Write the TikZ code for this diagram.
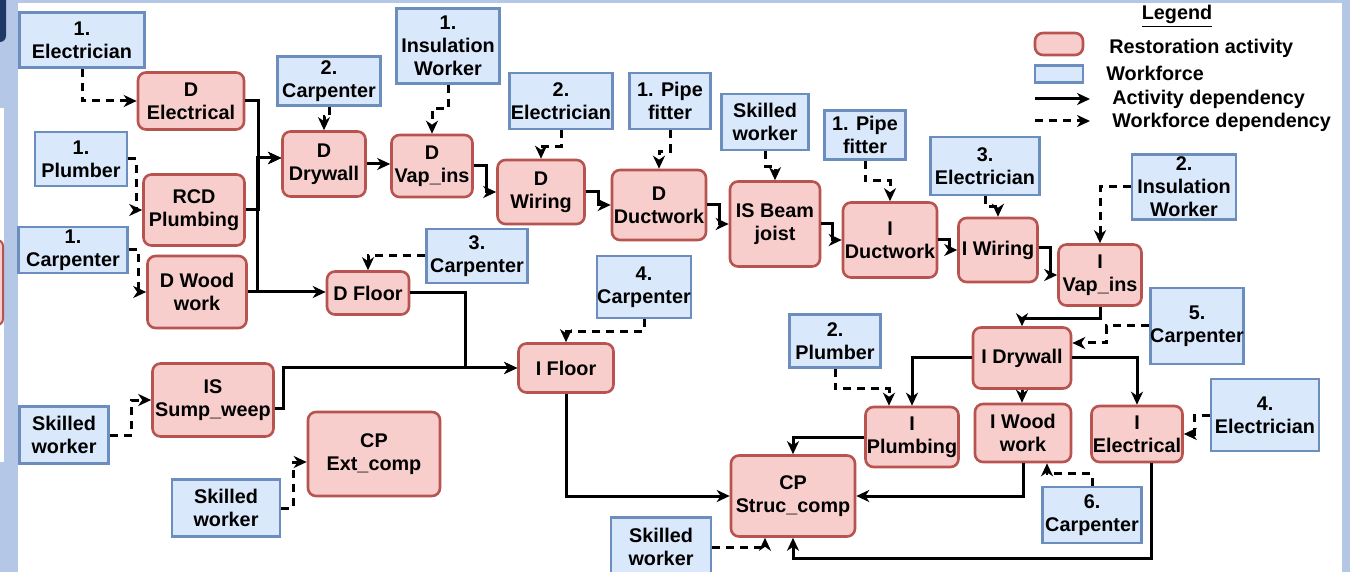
\documentclass[tikz,border=0pt]{standalone}
\usepackage{fontspec}
\setmainfont{Liberation Sans}
\usepackage{tikz}
\usetikzlibrary{arrows.meta}

\definecolor{actfill}{HTML}{F8CECC}
\definecolor{actline}{HTML}{B85450}
\definecolor{wffill}{HTML}{DAE8FC}
\definecolor{wfline}{HTML}{6C8EBF}
\definecolor{frameblue}{HTML}{B4C7E7}
\definecolor{navyblue}{HTML}{1F3864}

\begin{document}
\begin{tikzpicture}[x=0.5pt, y=-0.5pt,
  font=\fontsize{9.9}{11.5}\selectfont\bfseries,
  sz/.style 2 args={minimum width=#1*0.5pt, minimum height=#2*0.5pt},
  act/.style={draw=actline, fill=actfill, line width=1.3pt, rounded corners=4pt, align=center, inner sep=0pt},
  wf/.style={draw=wfline, fill=wffill, line width=1.3pt, align=center, inner sep=0pt},
  dep/.style={line width=1.5pt, -{Stealth[length=6.5pt, width=6pt, inset=2pt]}},
  wdep/.style={dep, dash pattern=on 4pt off 3pt}]

% Page frame
\useasboundingbox (0,0) rectangle (1350,572);
\fill[frameblue] (0,0) rectangle (1350,572);
\fill[white] (18,3) rectangle (1342,572);
\fill[navyblue, rounded corners=3pt] (-10,-10) rectangle (6,42);
\fill[white] (0,108) rectangle (4,462);
\filldraw[fill=actfill, draw=actline, line width=1pt, rounded corners=3pt] (-10,240) rectangle (3,325);

% Restoration activities
\node[act, sz={106}{57}] (delec) at (191,101) {D\\Electrical};
\node[act, sz={101}{71}] (rcd) at (194,210) {RCD\\Plumbing};
\node[act, sz={99}{72}] (dwood) at (197,292) {D Wood\\work};
\node[act, sz={83}{65}] (ddry) at (324,164) {D\\Drywall};
\node[act, sz={81}{62}] (dvap) at (432,166) {D\\Vap\_ins};
\node[act, sz={87}{64}] (dwir) at (541,192) {D\\Wiring};
\node[act, sz={94}{70}] (dduct) at (659,205) {D\\Ductwork};
\node[act, sz={90}{85}] (beam) at (775,224) {IS Beam\\joist};
\node[act, sz={94}{75}] (iduct) at (890,240) {I\\Ductwork};
\node[act, sz={79}{64}] (iwir) at (998,250) {I Wiring};
\node[act, sz={83}{61}] (ivap) at (1100,275) {I\\Vap\_ins};
\node[act, sz={82}{43}] (dfloor) at (368,293) {D Floor};
\node[act, sz={95}{49}] (ifloor) at (566,368) {I Floor};
\node[act, sz={121}{73}] (sump) at (213,400) {IS\\Sump\_weep};
\node[act, sz={132}{84}] (ext) at (374,454) {CP\\Ext\_comp};
\node[act, sz={124}{81}] (struc) at (793,496) {CP\\Struc\_comp};
\node[act, sz={98}{61}] (idry) at (1022,358) {I Drywall};
\node[act, sz={93}{60}] (iplumb) at (912,437) {I\\Plumbing};
\node[act, sz={96}{58}] (iwood) at (1023,433) {I Wood\\work};
\node[act, sz={91}{56}] (ielec) at (1137,434) {I\\Electrical};

% Workforce
\node[wf, sz={125}{55}] (welecA) at (82,40) {1.\\Electrician};
\node[wf, sz={92}{54}] (wplumbA) at (81,159) {1.\\Plumber};
\node[wf, sz={109}{46}] (wcarpA) at (73,250) {1.\\Carpenter};
\node[wf, sz={103}{49}] (wcarpB) at (329,81) {2.\\Carpenter};
\node[wf, sz={103}{75}] (winsA) at (448,46) {1.\\Insulation\\Worker};
\node[wf, sz={103}{56}] (welecB) at (561,101) {2.\\Electrician};
\node[wf, sz={81}{56}] (wpipeA) at (670,101) {1. Pipe\\fitter};
\node[wf, sz={87}{56}] (wskillA) at (765,122) {Skilled\\worker};
\node[wf, sz={81}{49}] (wpipeB) at (865,135) {1. Pipe\\fitter};
\node[wf, sz={109}{58}] (welecC) at (985,166) {3.\\Electrician};
\node[wf, sz={104}{65}] (winsB) at (1184,187) {2.\\Insulation\\Worker};
\node[wf, sz={101}{54}] (wcarpC) at (477,256) {3.\\Carpenter};
\node[wf, sz={94}{62}] (wcarpD) at (644,287) {4.\\Carpenter};
\node[wf, sz={93}{76}] (wcarpE) at (1197,326) {5.\\Carpenter};
\node[wf, sz={91}{53}] (wplumbB) at (835,341) {2.\\Plumber};
\node[wf, sz={108}{72}] (welecD) at (1265,415) {4.\\Electrician};
\node[wf, sz={99}{56}] (wcarpF) at (1092,515) {6.\\Carpenter};
\node[wf, sz={89}{57}] (wskillB) at (64,435) {Skilled\\worker};
\node[wf, sz={108}{57}] (wskillC) at (226,508) {Skilled\\worker};
\node[wf, sz={100}{59}] (wskillD) at (661,547) {Skilled\\worker};

% Activity dependencies
\draw[dep] (delec.east) -- ++(13,0) |- ([yshift=3pt]ddry.west);
\draw[dep] (rcd.east) -- ++(13,0) |- ([yshift=3pt]ddry.west);
\draw[dep] (dwood.east) -- ++(10,0) |- ([yshift=3pt]ddry.west);
\draw[dep] (dwood.east) -- (dwood.east -| dfloor.west);
\draw[dep] (ddry.east) -- (ddry.east -| dvap.west);
\draw[dep] (dvap.east) -- ++(13,0) |- (dwir.west);
\draw[dep] (dwir.east) -- ++(13,0) |- (dduct.west);
\draw[dep] (dduct.east) -- ++(12,0) |- (beam.west);
\draw[dep] (beam.east) -- ++(11,0) |- (iduct.west);
\draw[dep] (iduct.east) -- ++(11,0) |- (iwir.west);
\draw[dep] ([yshift=1pt]iwir.east) -- ++(12,0) |- (ivap.west);
\draw[dep] (ivap.south) -- ++(0,12) -| (idry.north);
\draw[dep] (idry.west) -| (iplumb.north);
\draw[dep] (idry.south) -- (idry.south |- iwood.north);
\draw[dep] (idry.east) -| (ielec.north);
\draw[dep] (iplumb.west) -| (struc.north);
\draw[dep] (iwood.south) |- (struc.east);
\draw[dep] ([xshift=7pt]ielec.south) -- ++(0,95) -| (struc.south);
\draw[dep] (dfloor.east) -- ++(55,0) |- (ifloor.west);
\draw[dep] ([yshift=-4pt]sump.east) -- ++(9,0) |- (ifloor.west);
\draw[dep] (ifloor.south) |- (struc.west);

% Workforce dependencies
\draw[wdep] (welecA.south) |- (delec.west);
\draw[wdep] (wplumbA.east) -- ++(8,0) |- (rcd.west);
\draw[wdep] (wcarpA.east) -- ++(10,0) |- (dwood.west);
\draw[wdep] (wcarpB.south) -- ++(0,10) -| (ddry.north);
\draw[wdep] (winsA.south) -- ++(0,24) -| (dvap.north);
\draw[wdep] (welecB.south) -- ++(0,16) -| (dwir.north);
\draw[wdep] (wpipeA.south) -- ++(0,21) -| (dduct.north);
\draw[wdep] (wskillA.south) -- ++(0,15) -| (beam.north);
\draw[wdep] (wpipeB.south) -- ++(0,20) -| (iduct.north);
\draw[wdep] (welecC.south) -- ++(0,10) -| (iwir.north);
\draw[wdep] (winsB.west) -| (ivap.north);
\draw[wdep] (wcarpC.west) -| (dfloor.north);
\draw[wdep] (wcarpD.south) -- ++(0,12) -| (ifloor.north);
\draw[wdep] (wcarpE.west) -- ++(-42,0) |- ([yshift=7.5pt]idry.east);
\draw[wdep] (wplumbB.south) -- ++(0,20) -| ([xshift=-11.5pt]iplumb.north);
\draw[wdep] (welecD.west) -- ++(-15,0) |- (ielec.east);
\draw[wdep] (wcarpF.north) -- ++(0,-12) -| ([xshift=12pt]iwood.south);
\draw[wdep] (wskillD.east) -| ([xshift=-14pt]struc.south);
\draw[wdep] (wskillB.east) -- ++(22,0) |- (sump.west);
\draw[wdep] (wskillC.east) -- ++(12,0) |- ([yshift=-4pt]ext.west);

% Legend
\node (legtitle) at (1177,16) {\underline{Legend}};
\node[act, sz={48}{22}] (legact) at (1059,44) {};
\node[wf, sz={48}{17}] (legwf) at (1059,74) {};
\node[anchor=west, inner sep=0pt] (legacttxt) at (1109,48) {Restoration activity};
\node[anchor=west, inner sep=0pt] (legwftxt) at (1106,73) {Workforce};
\node[anchor=west, inner sep=0pt] (legdeptxt) at (1112,99) {Activity dependency};
\node[anchor=west, inner sep=0pt] (legwdeptxt) at (1112,122) {Workforce dependency};
\coordinate (legA) at (1035,99);
\coordinate (legB) at (1090,99);
\coordinate (legC) at (1035,121);
\coordinate (legD) at (1090,121);
\draw[dep] (legA) -- (legB);
\draw[wdep] (legC) -- (legD);

\end{tikzpicture}
\end{document}
